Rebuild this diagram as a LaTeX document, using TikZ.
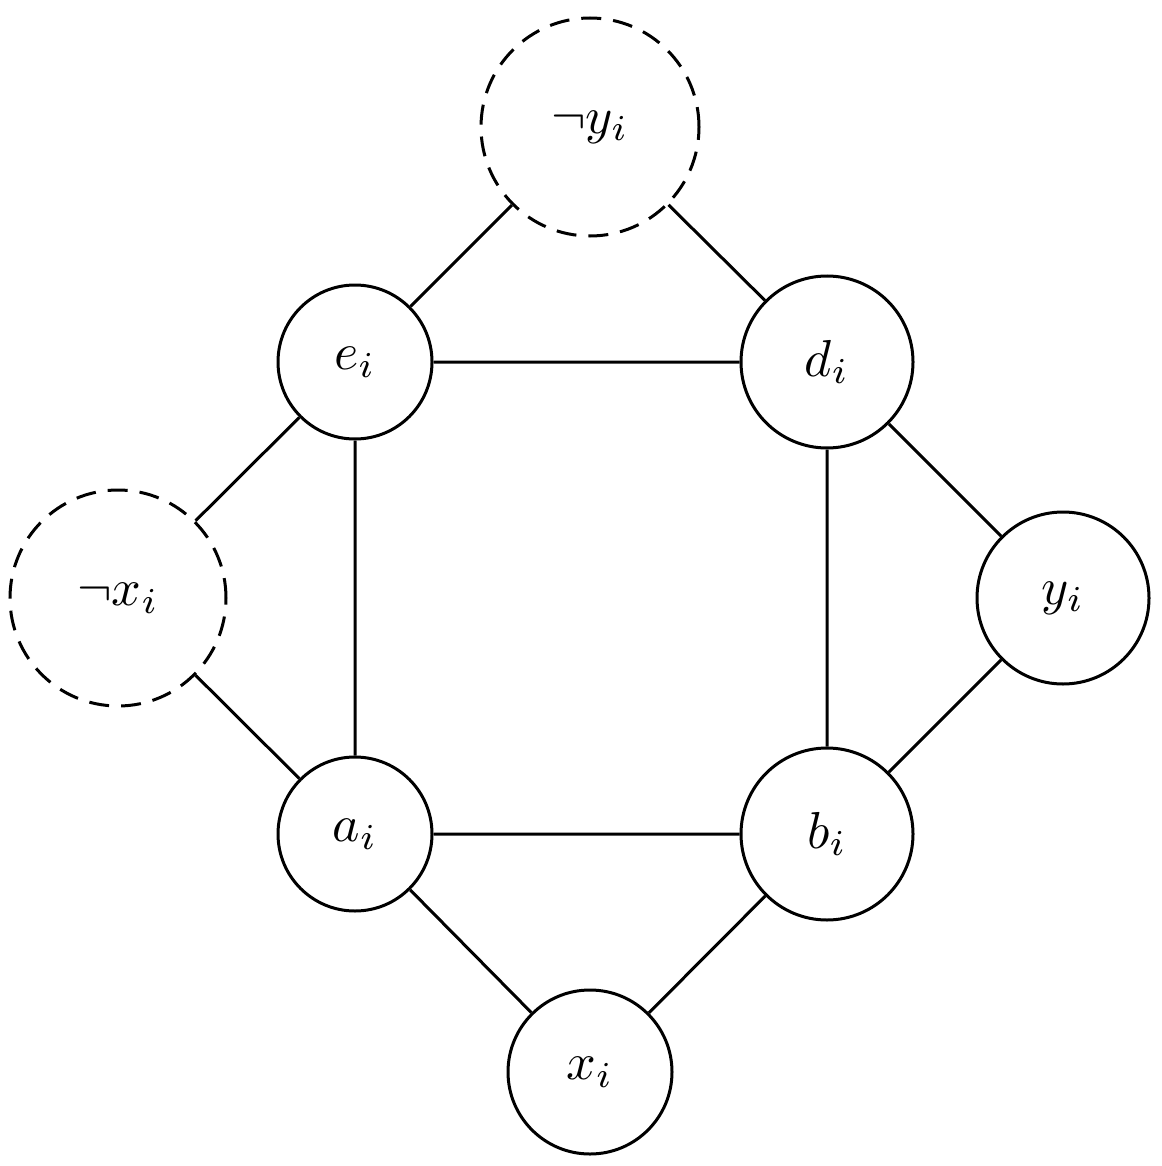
\documentclass[tikz,border=0pt]{standalone}
\usepackage{graphicx}
\newcommand{\lbl}[1]{\scalebox{5.2}{$#1$}}
\begin{document}
\begin{tikzpicture}[x=1pt,y=-1pt,
  v/.style={circle,draw,line width=3pt,inner sep=0pt},
  lit/.style={v,dash pattern=on 20pt off 12pt},
  e/.style={line width=3pt}]
\useasboundingbox (0,0) rectangle (1161,1166);
\node[lit,minimum size=218pt] (ny) at (590,127) {\lbl{\neg y_i}};
\node[v,minimum size=154pt] (e) at (355,362) {\lbl{e_i}};
\node[v,minimum size=172pt] (d) at (827,362) {\lbl{d_i}};
\node[lit,minimum size=216pt] (nx) at (118,598) {\lbl{\neg x_i}};
\node[v,minimum size=172pt] (y) at (1063,598) {\lbl{y_i}};
\node[v,minimum size=154pt] (a) at (355,834) {\lbl{a_i}};
\node[v,minimum size=172pt] (b) at (827,834) {\lbl{b_i}};
\node[v,minimum size=164pt] (x) at (590,1072) {\lbl{x_i}};
\draw[e] (ny)--(e) (ny)--(d) (e)--(d) (e)--(a) (d)--(b) (a)--(b)
  (nx)--(e) (nx)--(a) (y)--(d) (y)--(b) (x)--(a) (x)--(b);
\end{tikzpicture}
\end{document}
